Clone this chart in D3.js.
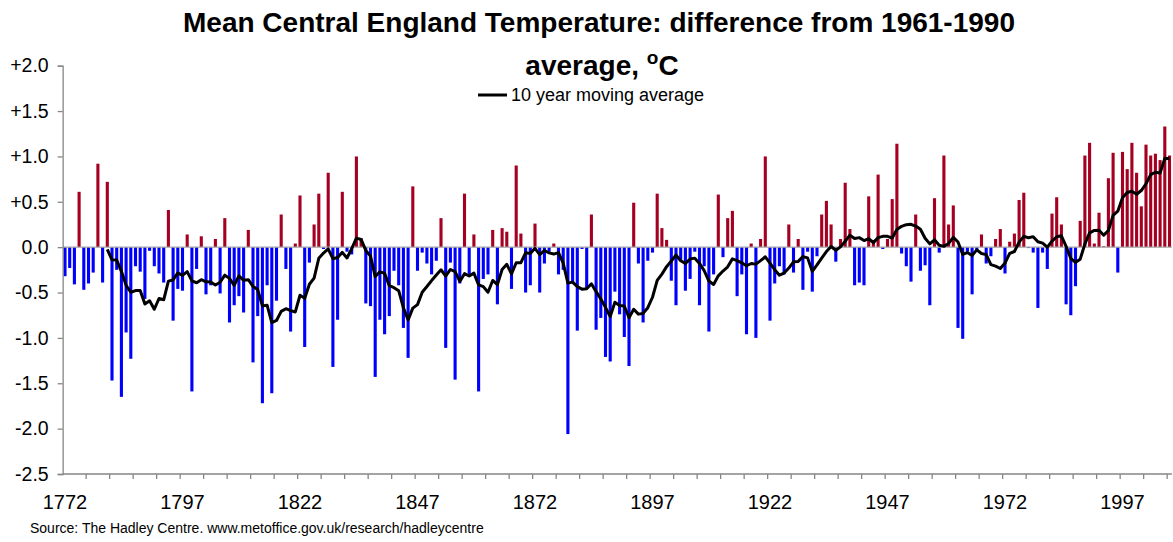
<!DOCTYPE html>
<html>
<head>
<meta charset="utf-8">
<script src="https://cdn.jsdelivr.net/npm/d3@7"></script>
<style>
  html, body { margin: 0; padding: 0; background: #fff; }
  svg { display: block; font-family: "Liberation Sans", Arial, sans-serif; }
</style>
</head>
<body>
<svg id="chart" width="1173" height="542"></svg>
<script>
// ---- Data ----
const firstYear = 1772;
const anomalies = [
  // 1772-1800
  -0.32, -0.23, -0.41, 0.61, -0.47, -0.40, -0.28, 0.92, -0.39, 0.72,
  -1.47, -0.25, -1.65, -0.94, -1.23, -0.21, -0.27, -0.57, -0.04, -0.21,
  -0.29, -0.39, 0.41, -0.81, -0.46, -0.48, 0.14, -1.59, -0.24,
  // 1801-1830
  0.12, -0.52, -0.42, 0.09, -0.51, 0.32, -0.83, -0.64, -0.54, -0.72,
  0.19, -1.27, -0.76, -1.72, -0.42, -1.61, -0.59, 0.36, -0.24, -0.93,
  0.04, 0.57, -1.10, -0.17, 0.25, 0.59, -0.02, 0.82, -1.32, -0.80,
  // 1831-1860
  0.61, -0.05, -0.08, 1.00, 0.10, -0.62, -0.65, -1.43, -0.80, -0.96,
  -0.76, -0.26, -0.42, -0.89, -1.22, 0.67, -0.26, -0.06, -0.18, -0.30,
  -0.15, 0.32, -1.11, -0.17, -1.46, -0.40, 0.59, -0.32, 0.14, -1.59,
  // 1861-1890
  -0.35, -0.30, 0.19, -0.63, 0.21, 0.17, -0.46, 0.90, 0.15, -0.50,
  -0.42, 0.26, -0.50, -0.18, -0.05, 0.04, -0.30, -0.25, -2.06, -0.39,
  -0.92, -0.02, -0.45, 0.36, -0.91, -0.78, -1.21, -1.26, -0.49, -0.74,
  // 1891-1920
  -0.99, -1.31, 0.49, -0.18, -0.83, -0.15, -0.06, 0.59, 0.21, 0.08,
  -0.37, -0.64, -0.14, -0.48, -0.35, -0.05, -0.64, -0.21, -0.93, -0.30,
  0.58, -0.11, 0.32, 0.40, -0.54, -0.30, -0.96, 0.04, -1.00, 0.09,
  // 1921-1950
  1.00, -0.81, -0.40, -0.21, -0.30, 0.25, -0.28, 0.09, -0.47, -0.05,
  -0.49, -0.10, 0.36, 0.51, 0.25, -0.16, 0.09, 0.71, 0.20, -0.42,
  -0.39, -0.42, 0.56, 0.08, 0.80, -0.02, 0.09, 0.53, 1.14, -0.07,
  // 1951-1980
  -0.21, -0.38, 0.36, -0.26, -0.20, -0.64, 0.54, -0.06, 1.01, 0.25,
  0.46, -0.89, -1.01, -0.05, -0.52, -0.03, 0.14, -0.18, -0.10, 0.09,
  0.20, -0.29, 0.06, 0.15, 0.52, 0.60, -0.01, -0.06, -0.67, -0.06,
  // 1981-2007
  -0.24, 0.37, 0.55, 0.25, -0.63, -0.75, -0.43, 0.29, 1.01, 1.15,
  0.04, 0.38, 0.01, 0.76, 1.04, -0.28, 1.05, 0.86, 1.15, 0.82,
  0.45, 1.13, 1.01, 1.03, 0.96, 1.33, 1.01
];
const years = anomalies.map((_, i) => firstYear + i);
const yTickValues = [-2.5, -2.0, -1.5, -1.0, -0.5, 0.0, 0.5, 1.0, 1.5, 2.0];
const xLabelYears = [1772, 1797, 1822, 1847, 1872, 1897, 1922, 1947, 1972, 1997];
const windowSize = 10;
const titleLine1 = "Mean Central England Temperature: difference from 1961-1990";
const legendLabel = "10 year moving average";
const sourceText = "Source: The Hadley Centre. www.metoffice.gov.uk/research/hadleycentre";

// 10-year trailing moving average, as the chart's trendline defines it
const movingAvg = [];
for (let i = windowSize - 1; i < anomalies.length; i++) {
  movingAvg.push({ year: years[i], value: d3.mean(anomalies.slice(i - windowSize + 1, i + 1)) });
}

// ---- Layout ----
const svg = d3.select("#chart");
const plotLeft = 62.65, bandW = 4.70;
const plotRight = plotLeft + bandW * years.length;
const yTop = 65.7, yBottom = 474;

const x = d3.scaleBand().domain(years).range([plotLeft, plotRight]).paddingInner(0.34).paddingOuter(0.17);
const y = d3.scaleLinear().domain([-2.5, 2.0]).range([yBottom, yTop]);

const axisColor = "#868686";

// Bars
svg.append("g").selectAll("rect").data(years).join("rect")
  .attr("x", d => x(d))
  .attr("width", x.bandwidth())
  .attr("y", (d, i) => anomalies[i] >= 0 ? y(anomalies[i]) : y(0))
  .attr("height", (d, i) => Math.abs(y(anomalies[i]) - y(0)))
  .attr("fill", (d, i) => anomalies[i] >= 0 ? "#A50021" : "#0000FF");

// Zero line
svg.append("line")
  .attr("x1", plotLeft).attr("x2", plotRight)
  .attr("y1", y(0)).attr("y2", y(0))
  .attr("stroke", "#a6a6a6").attr("stroke-width", 1.2);

// Y axis
const fmt = v => v === 0 ? "0.0" : (v > 0 ? "+" : "-") + Math.abs(v).toFixed(1);
const yAxis = svg.append("g")
  .attr("transform", `translate(${plotLeft},0)`)
  .call(d3.axisLeft(y).tickValues(yTickValues).tickFormat(fmt).tickSize(5).tickPadding(9));
yAxis.select(".domain").attr("stroke", axisColor).attr("stroke-width", 1.3);
yAxis.selectAll(".tick line").attr("stroke", axisColor).attr("stroke-width", 1.3);
yAxis.selectAll(".tick text").attr("fill", "#000").style("font-size", "19.5px")
  .style("font-family", "'Liberation Sans', Arial, sans-serif");

// X axis (category axis at the bottom)
const tickYears = years.filter((d, i) => i % 5 === 0).slice(1);
const xAxisG = svg.append("g").attr("transform", `translate(0,${yBottom})`);
xAxisG.append("line").attr("x1", plotLeft).attr("x2", plotRight)
  .attr("y1", 0).attr("y2", 0).attr("stroke", axisColor).attr("stroke-width", 1.3);
xAxisG.selectAll("line.tk").data(tickYears).join("line").attr("class", "tk")
  .attr("x1", d => x(d) - x.step() * x.paddingInner() / 2)
  .attr("x2", d => x(d) - x.step() * x.paddingInner() / 2)
  .attr("y1", 0).attr("y2", 5)
  .attr("stroke", axisColor).attr("stroke-width", 1.3);
xAxisG.selectAll("text").data(xLabelYears).join("text")
  .attr("x", d => x(d) + x.bandwidth() / 2)
  .attr("y", 35)
  .attr("text-anchor", "middle")
  .style("font-size", "20px")
  .text(d => d);

// Moving average line
const line = d3.line().x(d => x(d.year) + x.bandwidth() / 2).y(d => y(d.value));
svg.append("path").datum(movingAvg)
  .attr("d", line).attr("fill", "none")
  .attr("stroke", "#000").attr("stroke-width", 3).attr("stroke-linejoin", "round");

// Title
svg.append("text").attr("x", 599).attr("y", 32).attr("text-anchor", "middle")
  .style("font-size", "28px").style("font-weight", "bold").text(titleLine1);
const t2 = svg.append("text").attr("x", 602).attr("y", 75).attr("text-anchor", "middle")
  .style("font-size", "28px").style("font-weight", "bold");
t2.append("tspan").text("average, ");
t2.append("tspan").attr("dy", -11).style("font-size", "19px").text("o");
t2.append("tspan").attr("dy", 11).text("C");

// Legend
svg.append("line").attr("x1", 478).attr("x2", 507).attr("y1", 95).attr("y2", 95)
  .attr("stroke", "#000").attr("stroke-width", 3);
svg.append("text").attr("x", 511).attr("y", 101).style("font-size", "18px").text(legendLabel);

// Source
svg.append("text").attr("x", 30).attr("y", 533).style("font-size", "14px").text(sourceText);
</script>
</body>
</html>
